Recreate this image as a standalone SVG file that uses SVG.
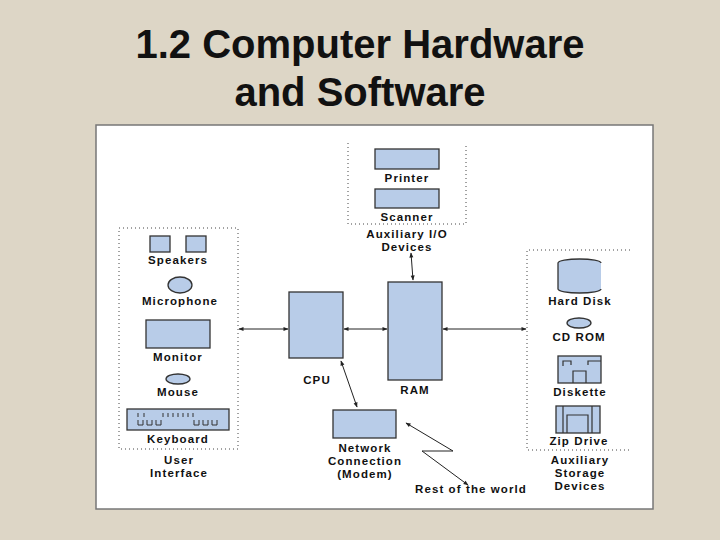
<svg xmlns="http://www.w3.org/2000/svg" width="720" height="540" viewBox="0 0 720 540">
<defs>
<marker id="ah" viewBox="0 0 10 10" refX="9" refY="5" markerWidth="7" markerHeight="5" orient="auto-start-reverse"><path d="M0,1 L10,5 L0,9 Z" fill="#222"/></marker>
<style>
.t{font-family:"Liberation Sans",Arial,sans-serif;font-weight:bold;font-size:11.5px;fill:#111;text-anchor:middle;letter-spacing:1.1px}
.h{font-family:"Liberation Sans",Arial,sans-serif;font-weight:bold;font-size:40px;fill:#111;text-anchor:middle}
.b{fill:#b8cce8;stroke:#333;stroke-width:1.3}
.d{fill:none;stroke:#444;stroke-width:1;stroke-dasharray:1,3}
.c{fill:none;stroke:#222;stroke-width:1;marker-start:url(#ah);marker-end:url(#ah)}
</style>
</defs>
<rect width="720" height="540" fill="#ddd6c6"/>
<text class="h" x="360" y="58">1.2  Computer Hardware</text>
<text class="h" x="360" y="106">and Software</text>
<rect x="96" y="125" width="557" height="384" fill="#fff" stroke="#777" stroke-width="1.5"/>
<g id="user-interface">
<rect class="d" x="119" y="228" width="119" height="221"/>
<rect class="b" x="150" y="236" width="20" height="16"/><rect class="b" x="186" y="236" width="20" height="16"/>
<text class="t" x="178" y="264">Speakers</text>
<ellipse class="b" cx="180" cy="285" rx="12" ry="8"/>
<text class="t" x="180" y="305">Microphone</text>
<rect class="b" x="146" y="320" width="64" height="28"/>
<text class="t" x="178" y="361">Monitor</text>
<ellipse class="b" cx="178" cy="379" rx="12" ry="5"/>
<text class="t" x="178" y="396">Mouse</text>
<rect class="b" x="127" y="409" width="102" height="21"/>
<path d="M138,413v4M144,413v4M163,413v4M168,413v4M173,413v4M178,413v4M183,413v4M188,413v4M193,413v4M138,420v5h5v-5M147,420v5h5v-5M156,420v5h5v-5M194,420v5h5v-5M203,420v5h5v-5M212,420v5h5v-5" fill="none" stroke="#333" stroke-width="1"/>
<text class="t" x="178" y="443">Keyboard</text>
<text class="t" x="179" y="464">User</text>
<text class="t" x="179" y="477">Interface</text>
</g>
<g id="cpu"><rect class="b" x="289" y="292" width="54" height="66"/><text class="t" x="317" y="384">CPU</text></g>
<g id="ram"><rect class="b" x="388" y="282" width="54" height="98"/><text class="t" x="415" y="394">RAM</text></g>
<g id="aux-io">
<path class="d" d="M348,143V224H466V143"/>
<rect class="b" x="375" y="149" width="64" height="20"/><text class="t" x="407" y="182">Printer</text>
<rect class="b" x="375" y="189" width="64" height="19"/><text class="t" x="407" y="221">Scanner</text>
<text class="t" x="407" y="238">Auxiliary I/O</text>
<text class="t" x="407" y="251">Devices</text>
</g>
<g id="network"><rect class="b" x="333" y="410" width="63" height="28"/>
<text class="t" x="365" y="452">Network</text><text class="t" x="365" y="465">Connection</text><text class="t" x="365" y="478">(Modem)</text></g>
<g id="storage">
<path class="d" d="M630,250H527V450H630"/>
<path class="b" d="M601,263a21.5,4 0 0 0 -43,0V289a21.5,4 0 0 0 43,0"/>
<text class="t" x="580" y="305">Hard Disk</text>
<ellipse class="b" cx="579" cy="323" rx="12" ry="5"/>
<text class="t" x="579" y="341">CD ROM</text>
<rect class="b" x="558" y="356" width="43" height="27"/>
<path d="M563,366v-5h8v4M588,365v-4h13M573,383v-12h13v12" fill="none" stroke="#333" stroke-width="1.2"/>
<text class="t" x="580" y="396">Diskette</text>
<rect class="b" x="556" y="406" width="44" height="27"/>
<path d="M563,433v-27M592,433v-27M567,433v-18h21v18" fill="none" stroke="#333" stroke-width="1.2"/>
<text class="t" x="579" y="445">Zip Drive</text>
<text class="t" x="580" y="464">Auxiliary</text><text class="t" x="580" y="477">Storage</text><text class="t" x="580" y="490">Devices</text>
</g>
<text class="t" x="471" y="493">Rest of the world</text>
<g id="connectors">
<line class="c" x1="239" y1="329" x2="288" y2="329"/>
<line class="c" x1="344" y1="329" x2="387" y2="329"/>
<line class="c" x1="443" y1="329" x2="526" y2="329"/>
<line class="c" x1="411" y1="253" x2="413" y2="280"/>
<line class="c" x1="341" y1="361" x2="357" y2="407"/>
<path d="M406,423L453,451L422,451L468,485" fill="none" stroke="#222" stroke-width="1" marker-start="url(#ah)" marker-end="url(#ah)"/>
</g>
</svg>
